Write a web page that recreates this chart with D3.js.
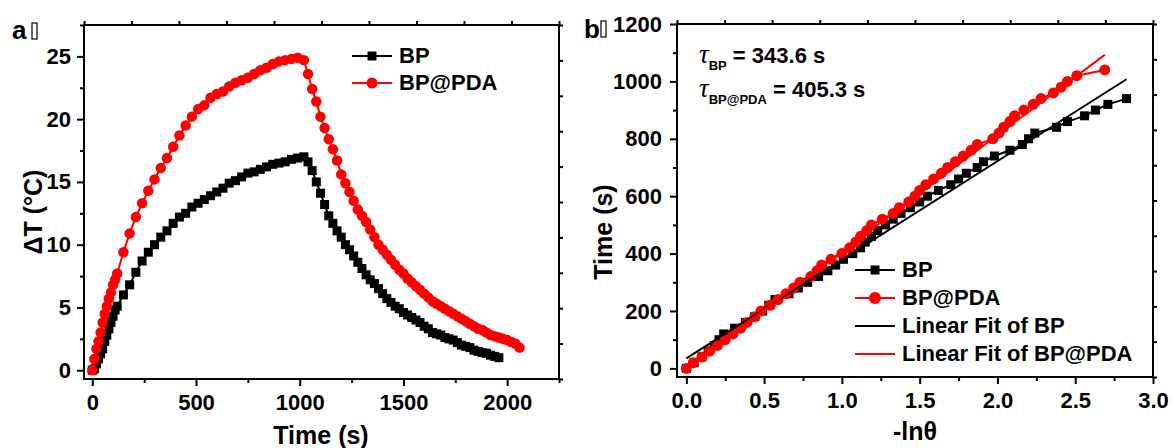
<!DOCTYPE html>
<html>
<head>
<meta charset="UTF-8">
<style>
  body { margin: 0; background: white; }
  svg { display: block; font-family: "Liberation Sans", Arial, sans-serif; font-weight: bold; }
  .tick text { font-family: "Liberation Sans", Arial, sans-serif; font-size: 22px; font-weight: bold; fill: black; }
  .tick line { stroke: black; stroke-width: 2; }
  .ttl { font-size: 25px; }
  .leg { font-size: 22px; }
</style>
</head>
<body>
<svg width="1174" height="448"></svg>
<script src="https://d3js.org/d3.v7.min.js"></script>
<script>

// ---- panel a: heating / cooling curves ----
const timeA = [0, 10, 20, 30, 40, 50, 60, 70, 80, 90, 100, 110, 120,
  150, 180, 210, 240, 270, 300, 330, 360, 390, 420, 450, 480, 510, 540, 570, 600,
  630, 660, 690, 720, 750, 780, 810, 840, 870, 900, 930, 960, 990, 1020,
  1040, 1060, 1080, 1100, 1120, 1140, 1160, 1180, 1200, 1220, 1240, 1260, 1280, 1300,
  1320, 1340, 1360, 1380, 1400, 1420, 1440, 1460, 1480, 1500, 1520, 1540, 1560, 1580,
  1600, 1620, 1640, 1660, 1680, 1700, 1720, 1740, 1760, 1780, 1800, 1820, 1840, 1860,
  1880, 1900, 1920, 1940, 1960, 1980, 2000, 2020, 2040, 2060];

const bpTemp = [0, 0.1, 0.5, 0.9, 1.3, 1.7, 2.3, 2.8, 3.3, 3.8, 4.3, 4.8, 5.1,
  6.0, 6.8, 7.8, 8.7, 9.4, 10.0, 10.6, 11.1, 11.7, 12.2,
  12.5, 13.0, 13.3, 13.6, 13.9, 14.2, 14.5, 14.9, 15.1, 15.4,
  15.7, 15.8, 16.0, 16.2, 16.4, 16.5, 16.6, 16.8, 16.9, 17.0,
  16.6, 15.9, 15.0, 14.1, 13.2, 12.3, 11.7, 11.1, 10.6, 10.0,
  9.6, 9.1, 8.6, 8.1, 7.6, 7.2, 6.9, 6.5, 6.1, 5.7,
  5.4, 5.1, 4.9, 4.6, 4.4, 4.2, 4.0, 3.8, 3.5, 3.3,
  3.0, 2.9, 2.8, 2.6, 2.5, 2.4, 2.2, 2.0, 1.9, 1.8,
  1.6, 1.5, 1.4, 1.35, 1.2, 1.1, 1.0];

const pdaTemp = [0, 0.9, 1.7, 2.3, 3.0, 3.8, 4.5, 5.1, 5.7, 6.2, 6.8, 7.2, 7.7,
  9.4, 10.9, 12.2, 13.3, 14.3, 15.2, 16.1, 16.9, 17.8, 18.7,
  19.5, 20.2, 20.8, 21.1, 21.7, 22.0, 22.2, 22.6, 22.9, 23.1,
  23.3, 23.6, 23.9, 24.1, 24.4, 24.6, 24.7, 24.8, 24.9, 24.7,
  23.6, 22.4, 21.4, 20.2, 19.3, 18.4, 17.6, 16.7, 15.6, 14.9,
  14.2, 13.5, 12.8, 12.3, 11.8, 11.2, 10.6, 10.0, 9.6, 9.2,
  8.8, 8.4, 8.0, 7.7, 7.3, 7.0, 6.7, 6.4, 6.1, 5.8,
  5.5, 5.3, 5.1, 4.9, 4.7, 4.5, 4.3, 4.1, 3.9, 3.7,
  3.5, 3.3, 3.2, 3.0, 2.8, 2.7, 2.6, 2.5, 2.4, 2.25,
  2.1, 1.8];

// ---- panel b: cooling time vs -ln(theta) ----
const timeB = [0, 20, 40, 60, 80, 100, 120, 140, 160, 180, 200, 220, 240, 260, 280, 300,
  320, 340, 360, 380, 400, 420, 440, 460, 480, 500, 520, 540, 560, 580, 600, 620, 640,
  660, 680, 700, 720, 740, 760, 780, 800, 820, 840, 860, 880, 900, 920, 940, 960, 980,
  1000, 1020, 1040];

const bpLn = [0.0, 0.05, 0.10, 0.14, 0.18, 0.21, 0.24, 0.31, 0.38, 0.44,
  0.49, 0.53, 0.57, 0.66, 0.72, 0.78, 0.85, 0.91, 0.96, 1.01,
  1.07, 1.12, 1.15, 1.19, 1.23, 1.28, 1.33, 1.38, 1.44, 1.50,
  1.55, 1.62, 1.70, 1.75, 1.80, 1.87, 1.91, 1.98, 2.08, 2.16,
  2.20, 2.24, 2.38, 2.45, 2.56, 2.63, 2.71, 2.83];

const pdaLn = [0.0, 0.045, 0.10, 0.15, 0.20, 0.25, 0.30, 0.35, 0.39, 0.44,
  0.48, 0.54, 0.59, 0.64, 0.69, 0.73, 0.80, 0.84, 0.87, 0.93,
  1.00, 1.05, 1.09, 1.12, 1.16, 1.19, 1.26, 1.33, 1.37, 1.43,
  1.47, 1.50, 1.54, 1.59, 1.64, 1.68, 1.73, 1.78, 1.83, 1.87,
  1.97, 2.01, 2.04, 2.08, 2.11, 2.17, 2.23, 2.28, 2.36, 2.41,
  2.45, 2.51, 2.69];

// linear fits: [intercept, slope (tau), last x]
const fitBP = [35, 343.6, 2.83];
const fitPDA = [2, 405.3, 2.69];

const svg = d3.select("svg");

function axes(x, y, xMaj, xMin, yMaj, yMin, xFmt, yFmt, yPad) {
  const [x0, x1] = x.range(), [y0, y1] = y.range();
  const g = svg.append("g");
  g.append("g").attr("transform", `translate(0,${y0})`)
    .call(d3.axisBottom(x).tickValues(xMin).tickSize(4).tickFormat(""));
  g.append("g").attr("transform", `translate(0,${y0})`)
    .call(d3.axisBottom(x).tickValues(xMaj).tickSize(7).tickPadding(8).tickFormat(xFmt));
  g.append("g").attr("transform", `translate(${x0},0)`)
    .call(d3.axisLeft(y).tickValues(yMin).tickSize(4).tickFormat(""));
  g.append("g").attr("transform", `translate(${x0},0)`)
    .call(d3.axisLeft(y).tickValues(yMaj).tickSize(7).tickPadding(yPad).tickFormat(yFmt));
  // mirrored top/right axes: 10 even divisions
  const tx = d3.scaleLinear().domain([0, 10]).range([x0, x1]);
  const ty = d3.scaleLinear().domain([0, 10]).range([y0, y1]);
  g.append("g").attr("transform", `translate(0,${y1})`)
    .call(d3.axisTop(tx).ticks(10).tickSize(4).tickFormat(""));
  g.append("g").attr("transform", `translate(${x1},0)`)
    .call(d3.axisRight(ty).ticks(10).tickSize(4).tickFormat(""));
  g.selectAll(".domain").remove();
  g.append("rect")
    .attr("x", x0).attr("y", y1)
    .attr("width", x1 - x0).attr("height", y0 - y1)
    .attr("fill", "none").attr("stroke", "black").attr("stroke-width", 2);
}

function series(pts, x, y, color, shape, size) {
  svg.append("path")
    .datum(pts)
    .attr("d", d3.line().x(d => x(d[0])).y(d => y(d[1])))
    .attr("fill", "none").attr("stroke", color).attr("stroke-width", 2);
  const g = svg.append("g").attr("fill", color);
  if (shape == "square") {
    g.selectAll("rect").data(pts).enter().append("rect")
      .attr("x", d => x(d[0]) - size / 2).attr("y", d => y(d[1]) - size / 2)
      .attr("width", size).attr("height", size);
  } else {
    g.selectAll("circle").data(pts).enter().append("circle")
      .attr("cx", d => x(d[0])).attr("cy", d => y(d[1])).attr("r", size / 2);
  }
}

function legendRow(lx, ly, color, shape, size, label) {
  svg.append("line").attr("x1", lx).attr("x2", lx + 40).attr("y1", ly).attr("y2", ly)
    .attr("stroke", color).attr("stroke-width", 2);
  if (shape == "square") {
    svg.append("rect").attr("x", lx + 20 - size / 2).attr("y", ly - size / 2)
      .attr("width", size).attr("height", size).attr("fill", color);
  } else if (shape == "circle") {
    svg.append("circle").attr("cx", lx + 20).attr("cy", ly).attr("r", size / 2).attr("fill", color);
  }
  svg.append("text").attr("class", "leg").attr("x", lx + 47).attr("y", ly).attr("dy", "0.32em").text(label);
}

// ================= panel a =================
let xa = d3.scaleLinear().domain([-40, 2250]).range([84, 559]);
let ya = d3.scaleLinear().domain([-0.7, 27.5]).range([379, 25]);

axes(xa, ya, d3.range(0, 2001, 500), d3.range(250, 2251, 500),
  d3.range(0, 26, 5), d3.range(2.5, 28, 5), d3.format("d"), d3.format("d"), 6);

series(d3.zip(timeA.slice(0, bpTemp.length), bpTemp), xa, ya, "black", "square", 9);
series(d3.zip(timeA, pdaTemp), xa, ya, "red", "circle", 10.5);

legendRow(352, 56, "black", "square", 9, "BP");
legendRow(352, 83, "red", "circle", 11, "BP@PDA");

svg.append("text").attr("class", "ttl").attr("x", 321).attr("y", 444)
  .attr("text-anchor", "middle").text("Time (s)");
svg.append("text").attr("class", "ttl").attr("transform", "translate(42,212) rotate(-90)")
  .attr("text-anchor", "middle").text("ΔT (°C)");

svg.append("text").attr("x", 12).attr("y", 39).attr("font-size", 26).text("a");
svg.append("rect").attr("x", 32).attr("y", 23).attr("width", 5).attr("height", 16)
  .attr("fill", "none").attr("stroke", "black").attr("stroke-width", 1.2);

// ================= panel b =================
let xb = d3.scaleLinear().domain([-0.06, 3.0]).range([677, 1153]);
let yb = d3.scaleLinear().domain([-30, 1200]).range([377, 24]);

axes(xb, yb, d3.range(0, 3.01, 0.5), d3.range(0.25, 2.8, 0.5),
  d3.range(0, 1201, 200), d3.range(100, 1200, 200), d3.format(".1f"), d3.format("d"), 8);

series(d3.zip(bpLn, timeB.slice(0, bpLn.length)), xb, yb, "black", "square", 9);
series(d3.zip(pdaLn, timeB), xb, yb, "red", "circle", 11);

[[fitBP, "black"], [fitPDA, "red"]].forEach(([f, c]) => {
  svg.append("line")
    .attr("x1", xb(0)).attr("y1", yb(f[0]))
    .attr("x2", xb(f[2])).attr("y2", yb(f[0] + f[1] * f[2]))
    .attr("stroke", c).attr("stroke-width", 2);
});

legendRow(855, 270, "black", "square", 9, "BP");
legendRow(855, 298, "red", "circle", 12, "BP@PDA");
legendRow(855, 326, "black", "none", 0, "Linear Fit of BP");
legendRow(855, 354, "red", "none", 0, "Linear Fit of BP@PDA");

// tau annotations
function tauLine(ty, sub, val) {
  let t = svg.append("text").attr("x", 699).attr("y", ty);
  t.append("tspan").attr("font-family", "Liberation Serif, serif").attr("font-style", "italic")
    .attr("font-weight", "normal").attr("font-size", 27).text("τ");
  t.append("tspan").attr("font-size", 13).attr("dy", 7).text(sub);
  t.append("tspan").attr("font-size", 22).attr("dy", -7).text(" = " + val);
}
tauLine(63, "BP", "343.6 s");
tauLine(97, "BP@PDA", "405.3 s");

svg.append("text").attr("class", "ttl").attr("x", 915).attr("y", 440)
  .attr("text-anchor", "middle").text("-lnθ");
svg.append("text").attr("class", "ttl").attr("transform", "translate(612,232) rotate(-90)")
  .attr("text-anchor", "middle").text("Time (s)");

svg.append("text").attr("x", 584).attr("y", 38).attr("font-size", 26).text("b");
svg.append("rect").attr("x", 601).attr("y", 21).attr("width", 5).attr("height", 16)
  .attr("fill", "none").attr("stroke", "black").attr("stroke-width", 1.2);

</script>
</body>
</html>
